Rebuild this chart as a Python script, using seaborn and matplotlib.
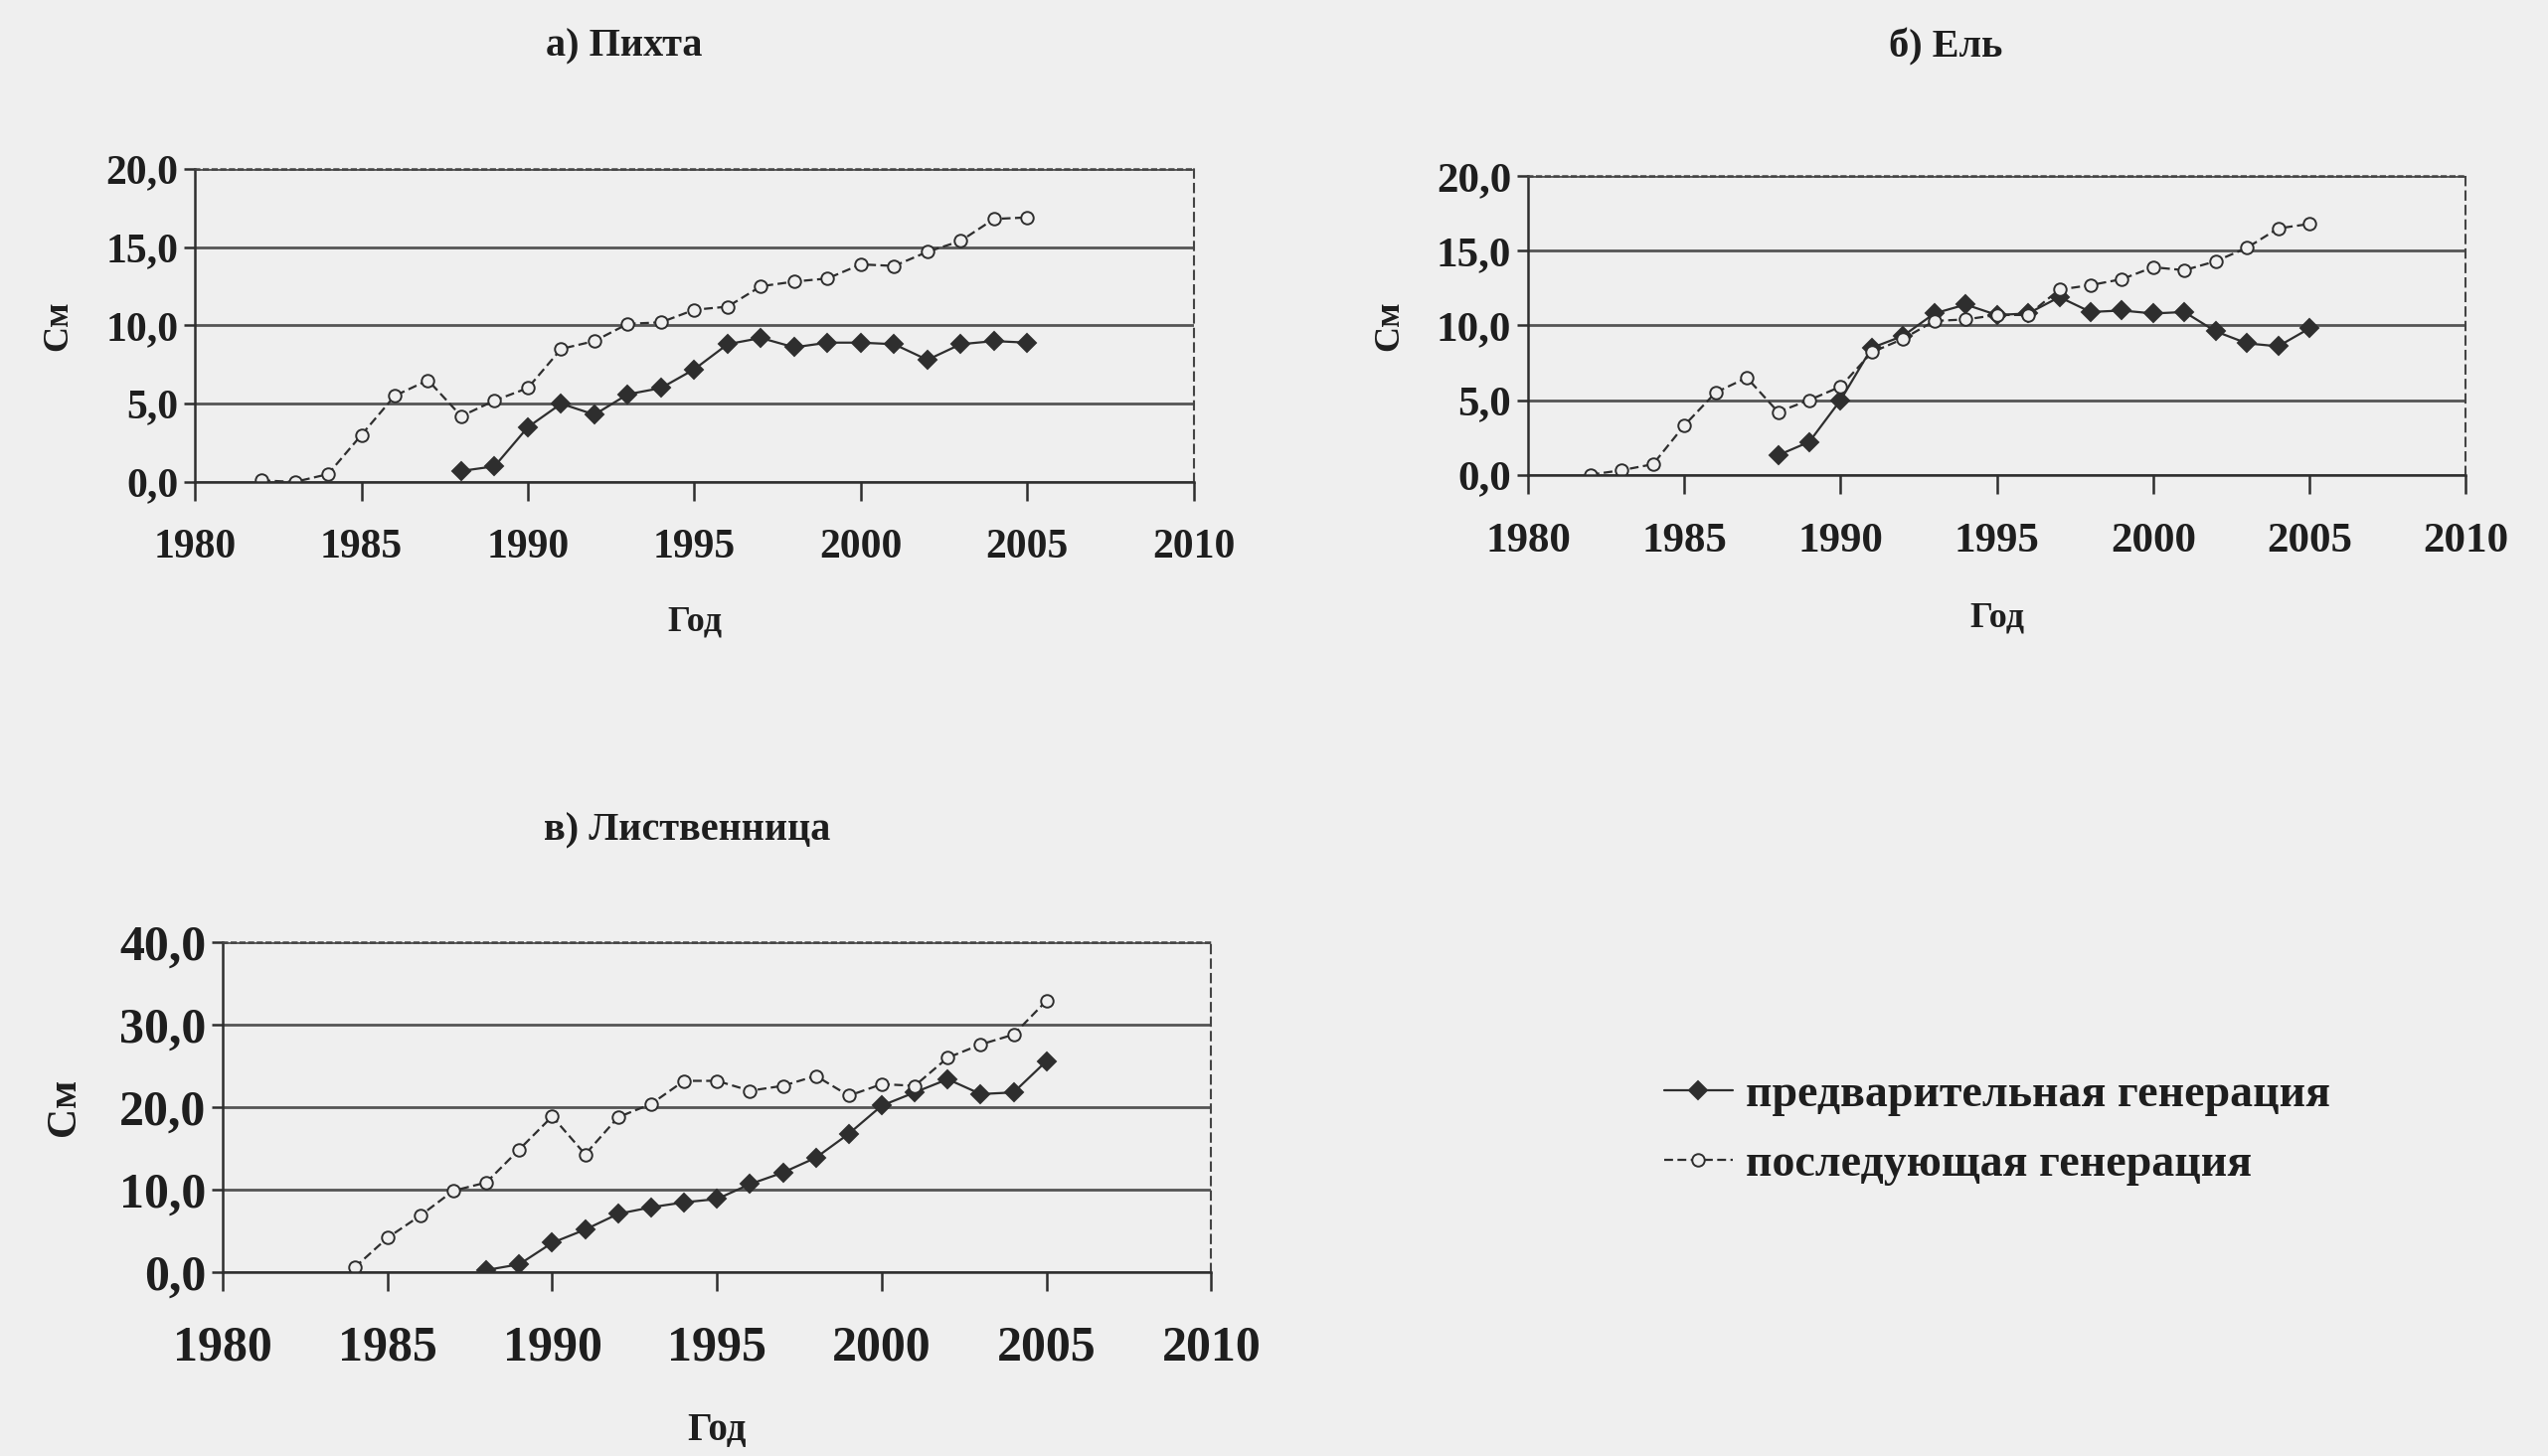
import numpy as np
import pandas as pd
import matplotlib
matplotlib.use("Agg")
import matplotlib.pyplot as plt
from matplotlib.ticker import FuncFormatter, MultipleLocator
import seaborn as sns

# ---- data ----
years_a_pre = list(range(1988, 2006))
vals_a_pre = [0.7, 1.0, 3.5, 5.0, 4.3, 5.6, 6.0, 7.2, 8.8, 9.2, 8.6, 8.9, 8.9, 8.8, 7.8, 8.8, 9.0, 8.9]
years_a_post = list(range(1982, 2006))
vals_a_post = [0.1, 0.0, 0.5, 3.0, 5.5, 6.5, 4.2, 5.2, 6.0, 8.5, 9.0, 10.1, 10.2, 11.0, 11.2, 12.5, 12.8, 13.0,
               13.9, 13.8, 14.7, 15.4, 16.8, 16.9]

years_b_pre = list(range(1988, 2006))
vals_b_pre = [1.3, 2.2, 5.0, 8.5, 9.3, 10.8, 11.4, 10.7, 10.8, 11.9, 10.9, 11.0, 10.8, 10.9, 9.6, 8.8, 8.6, 9.8]
years_b_post = list(range(1982, 2006))
vals_b_post = [0.0, 0.3, 0.7, 3.3, 5.5, 6.5, 4.2, 5.0, 5.9, 8.2, 9.1, 10.3, 10.4, 10.7, 10.7, 12.4, 12.7, 13.1,
               13.9, 13.7, 14.3, 15.2, 16.5, 16.8]

years_c_pre = list(range(1988, 2006))
vals_c_pre = [0.3, 1.0, 3.6, 5.2, 7.1, 7.9, 8.5, 8.9, 10.7, 12.1, 13.9, 16.8, 20.2, 21.8, 23.4, 21.6, 21.8, 25.6]
years_c_post = list(range(1984, 2006))
vals_c_post = [0.6, 4.2, 6.9, 9.9, 10.9, 14.9, 18.9, 14.3, 18.8, 20.4, 23.2, 23.2, 22.0, 22.6, 23.8, 21.4,
               22.8, 22.6, 26.0, 27.6, 28.8, 32.9]

titles = ["а) Пихта", "б) Ель", "в) Лиственница"]
series_names = ["предварительная генерация", "последующая генерация"]
x_ticks = [1980, 1985, 1990, 1995, 2000, 2005, 2010]
y_label = "См"
x_label = "Год"

# ---- style ----
sns.set_theme(style="white")
plt.rcParams['font.family'] = ['Liberation Serif', 'DejaVu Serif']
plt.rcParams['font.weight'] = 'bold'

BG = '#efefef'
INK = '#2e2e2e'
TXT = '#1e1e1e'

fig = plt.figure(figsize=(25.63, 14.65), dpi=100, facecolor=BG)

axes_pos = [
    [0.0765, 0.669, 0.392, 0.215],
    [0.5997, 0.674, 0.368, 0.205],
    [0.0874, 0.126, 0.388, 0.227],
]
panels = [
    (years_a_pre, vals_a_pre, years_a_post, vals_a_post, 20, 5),
    (years_b_pre, vals_b_pre, years_b_post, vals_b_post, 20, 5),
    (years_c_pre, vals_c_pre, years_c_post, vals_c_post, 40, 10),
]
# per-panel text sizing: (tick size, x pad, xlabel size, xlabel pad, ylabel size, ylabel pad, title x, title pad)
text_cfg = [
    (30, 20, 26, 28, 26, 22, 0.43, 82),
    (31, 21, 26, 30, 26, 22, 0.445, 86),
    (36, 24, 28, 30, 30, 26, 0.47, 74),
]

fmt = FuncFormatter(lambda v, p: f"{v:.1f}".replace(".", ","))

handles_for_legend = None
for i, (pos, (yp, vp, yq, vq, ymax, ystep)) in enumerate(zip(axes_pos, panels)):
    tsize, xpad, xls, xlp, yls, ylp, tx, tpad = text_cfg[i]
    ax = fig.add_axes(pos)
    ax.set_facecolor(BG)
    df = pd.concat([
        pd.DataFrame({"Год": yp, "См": vp, "серия": series_names[0]}),
        pd.DataFrame({"Год": yq, "См": vq, "серия": series_names[1]}),
    ])
    sns.lineplot(data=df, x="Год", y="См", hue="серия", style="серия",
                 palette={series_names[0]: INK, series_names[1]: INK},
                 markers={series_names[0]: "D", series_names[1]: "o"},
                 dashes={series_names[0]: "", series_names[1]: (4, 2)},
                 markersize=9, linewidth=1.6, ax=ax, legend=(i == 0),
                 markeredgecolor=INK, markeredgewidth=1.4)
    for line in ax.get_lines():
        if line.get_marker() == "o":
            line.set_markerfacecolor(BG)
    if i == 0:
        handles_for_legend, _ = ax.get_legend_handles_labels()
        for h in handles_for_legend:
            if h.get_marker() == "o":
                h.set_markerfacecolor(BG)
        ax.get_legend().remove()

    ax.set_xlim(1980, 2010)
    ax.set_ylim(0, ymax)
    ax.set_xticks(x_ticks)
    ax.yaxis.set_major_locator(MultipleLocator(ystep))
    ax.yaxis.set_major_formatter(fmt)
    ax.grid(axis='y', color='#555555', linewidth=2.0)
    ax.grid(axis='x', visible=False)
    ax.set_axisbelow(True)

    for s in ["left", "bottom"]:
        ax.spines[s].set_color(INK)
        ax.spines[s].set_linewidth(1.8)
    ax.spines["top"].set_linestyle((0, (1.5, 2)))
    ax.spines["top"].set_color('#444444')
    ax.spines["top"].set_linewidth(1.8)
    ax.spines["right"].set_linestyle((0, (4, 3)))
    ax.spines["right"].set_color('#444444')
    ax.spines["right"].set_linewidth(1.5)

    ax.tick_params(axis='x', direction='out', length=14, width=1.8, color=INK,
                   labelsize=tsize, labelcolor=TXT, pad=xpad, bottom=True)
    ax.tick_params(axis='y', direction='out', length=8, width=1.8, color=INK,
                   labelsize=tsize, labelcolor=TXT, pad=4, left=True)
    for lab in ax.get_xticklabels() + ax.get_yticklabels():
        lab.set_fontweight('bold')

    ax.set_xlabel(x_label, fontsize=xls, fontweight='bold', color=TXT, labelpad=xlp)
    ax.set_ylabel(y_label, fontsize=yls, fontweight='bold', color=TXT, labelpad=ylp)
    ax.set_title(titles[i], fontsize=29, fontweight='bold', color=TXT, pad=tpad, x=tx)

leg = fig.legend(handles_for_legend, series_names, loc='center left',
                 bbox_to_anchor=(0.637, 0.224), frameon=False,
                 prop={'size': 33, 'weight': 'bold'}, handlelength=1.5,
                 handletextpad=0.3, labelspacing=0.6)
for t in leg.get_texts():
    t.set_color(TXT)

fig.savefig("out.png", dpi=100, facecolor=BG)
